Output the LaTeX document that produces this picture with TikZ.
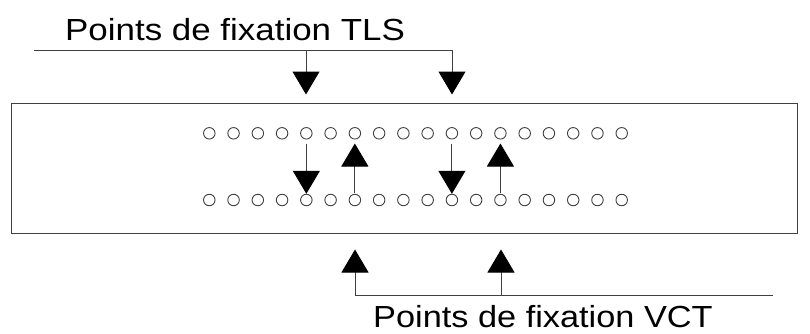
\documentclass[tikz,border=0pt]{standalone}
\usepackage{fontspec}
\setmainfont{Liberation Sans}
\usetikzlibrary{arrows.meta}
\begin{document}
\begin{tikzpicture}[x=1pt,y=-1pt,
  line/.style={draw=black!75,line width=1pt},
  arr/.style={line, arrows={-{Triangle[width=27pt,length=23pt,color=black]}}},
  hole/.style={circle,draw=black!75,line width=0.9pt,minimum size=11.5pt,inner sep=0pt},
  lbl/.style={font=\fontsize{30.5}{36}\selectfont,inner sep=0pt,anchor=base west}]
\useasboundingbox (0,0) rectangle (810,333);
\fill[white] (0,0) rectangle (810,333);
\node[draw=black!75,line width=1pt,minimum width=786pt,minimum height=130pt,inner sep=0pt] (box) at (404,168) {};
\foreach \k in {0,...,17} {
  \node[hole] (t\k) at ({209.3+24.26*\k},133.3) {};
  \node[hole] (b\k) at ({209.3+24.26*\k},200) {};
}
% TLS
\node[lbl] (tls) at (65,40.7) {\scalebox{1.145}[1]{Points de fixation TLS}};
\coordinate (tl) at (34,50);
\coordinate (ta1) at (306,50);
\coordinate (ta2) at (452,50);
\draw[line] (tl) -- (ta2);
\draw[arr,shorten >=8pt] (ta1) -- (ta1 |- box.north);
\draw[arr,shorten >=8pt] (ta2) -- (ta2 |- box.north);
% middle
\draw[arr,shorten <=4pt] (t4) -- (b4);
\draw[arr,shorten <=4pt] (t10) -- (b10);
\draw[arr,shorten <=1pt,shorten >=4pt] (b6) -- (t6);
\draw[arr,shorten <=1pt,shorten >=4pt] (b12) -- (t12);
% VCT
\node[lbl] (vct) at (373,327.3) {\scalebox{1.125}[1]{Points de fixation VCT}};
\coordinate (ba1) at (355,295);
\coordinate (ba2) at (501,295);
\coordinate (br) at (773,295);
\draw[line] (ba1) -- (br);
\draw[arr,shorten >=16pt] (ba1) -- (ba1 |- box.south);
\draw[arr,shorten >=16pt] (ba2) -- (ba2 |- box.south);
\end{tikzpicture}
\end{document}
